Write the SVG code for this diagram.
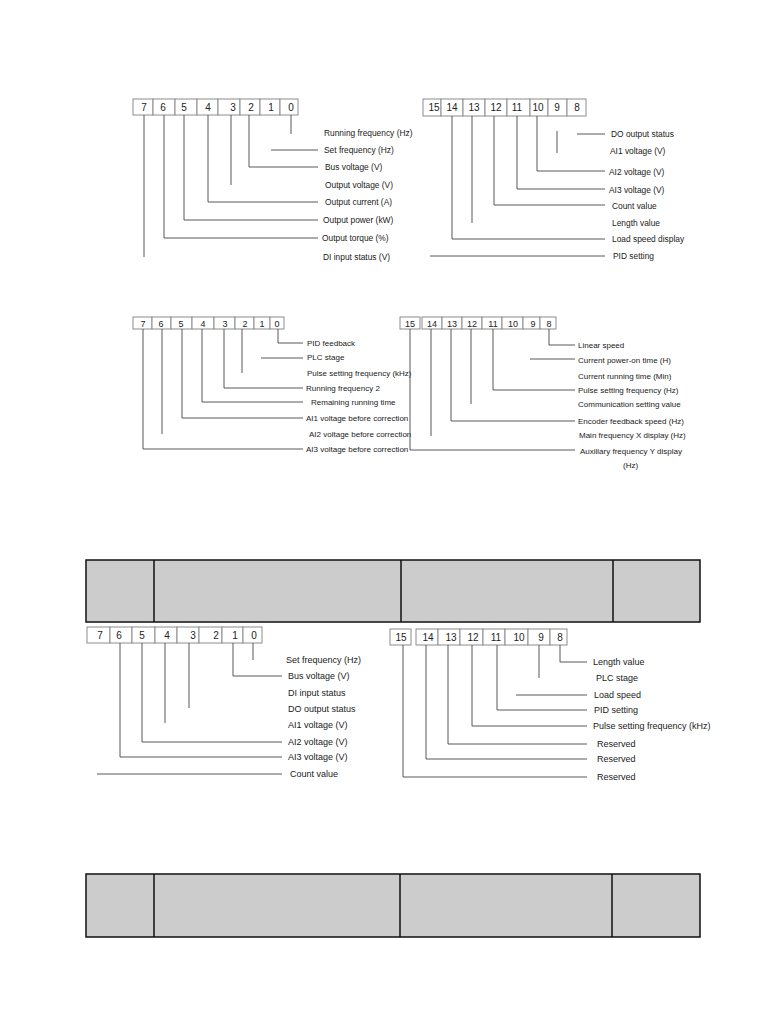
<svg xmlns="http://www.w3.org/2000/svg" width="766" height="1020" viewBox="0 0 766 1020">
<style>
.cell{fill:#fff;stroke:#8c8c8c;stroke-width:1}
.dg{font-family:"Liberation Sans",Arial,sans-serif;fill:#222;text-anchor:middle}
.d1{font-size:10px}
.d3{font-size:9px}
.lb{font-family:"Liberation Sans",Arial,sans-serif;fill:#1a1a1a}
.s1{font-size:8.4px}
.s3{font-size:8px}
.s5{font-size:9px}
.ln{fill:none;stroke:#454545;stroke-width:0.9}
.tb{fill:#cccccc;stroke:#111;stroke-width:1.5}
.tv{stroke:#111;stroke-width:1.5}
</style>
<rect width="766" height="1020" fill="#fff"/>

<!-- Diagram 1 -->
<g id="reg1-low">
<rect class="cell" x="133" y="99" width="20" height="16"/><rect class="cell" x="153" y="99" width="22" height="16"/><rect class="cell" x="175" y="99" width="22" height="16"/><rect class="cell" x="197" y="99" width="21" height="16"/><rect class="cell" x="218" y="99" width="22" height="16"/><rect class="cell" x="240" y="99" width="20" height="16"/><rect class="cell" x="260" y="99" width="20" height="16"/><rect class="cell" x="280" y="99" width="18" height="16"/>
<g class="dg d1"><text x="144" y="111">7</text><text x="163" y="111">6</text><text x="184" y="111">5</text><text x="208" y="111">4</text><text x="233" y="111">3</text><text x="251" y="111">2</text><text x="271" y="111">1</text><text x="291" y="111">0</text></g>
</g>
<g id="labels1" class="lb s1">
<text x="324" y="136">Running frequency  (Hz)</text>
<text x="324" y="153">Set frequency (Hz)</text>
<text x="325" y="170">Bus voltage (V)</text>
<text x="325" y="188">Output voltage (V)</text>
<text x="325" y="205">Output current (A)</text>
<text x="323" y="223">Output power (kW)</text>
<text x="322" y="241">Output torque (%)</text>
<text x="323" y="260">DI input status (V)</text>
</g>

<!-- Diagram 2 -->
<g id="reg1-high">
<rect class="cell" x="423" y="99" width="18" height="17"/><rect class="cell" x="441" y="99" width="22" height="17"/><rect class="cell" x="463" y="99" width="22" height="17"/><rect class="cell" x="485" y="99" width="22" height="17"/><rect class="cell" x="507" y="99" width="23" height="17"/><rect class="cell" x="530" y="99" width="18" height="17"/><rect class="cell" x="548" y="99" width="19" height="17"/><rect class="cell" x="567" y="99" width="19" height="17"/>
<g class="dg d1"><text x="434" y="111">15</text><text x="452" y="111">14</text><text x="474" y="111">13</text><text x="496" y="111">12</text><text x="517" y="111">11</text><text x="538" y="111">10</text><text x="557" y="111">9</text><text x="577" y="111">8</text></g>
</g>
<g id="labels2" class="lb s1">
<text x="611" y="137">DO output status</text>
<text x="610" y="154">AI1 voltage (V)</text>
<text x="609" y="175">AI2 voltage (V)</text>
<text x="609" y="193">AI3 voltage (V)</text>
<text x="612" y="209">Count value</text>
<text x="612" y="226">Length value</text>
<text x="612" y="242">Load speed display</text>
<text x="613" y="259">PID setting</text>
</g>

<!-- Diagram 3 -->
<g id="reg2-low">
<rect class="cell" x="133" y="317" width="19" height="12"/><rect class="cell" x="152" y="317" width="19" height="12"/><rect class="cell" x="171" y="317" width="21" height="12"/><rect class="cell" x="192" y="317" width="22" height="12"/><rect class="cell" x="214" y="317" width="21" height="12"/><rect class="cell" x="235" y="317" width="19" height="12"/><rect class="cell" x="254" y="317" width="16" height="12"/><rect class="cell" x="270" y="317" width="14" height="12"/>
<g class="dg d3"><text x="143" y="326.5">7</text><text x="161" y="326.5">6</text><text x="181" y="326.5">5</text><text x="203" y="326.5">4</text><text x="225" y="326.5">3</text><text x="245" y="326.5">2</text><text x="262" y="326.5">1</text><text x="277" y="326.5">0</text></g>
</g>
<g id="labels3" class="lb s3">
<text x="307" y="346">PID feedback</text>
<text x="307" y="360">PLC stage</text>
<text x="307" y="376">Pulse setting frequency (kHz)</text>
<text x="306" y="391">Running frequency 2</text>
<text x="311" y="405">Remaining running time</text>
<text x="306" y="421">AI1 voltage before correction</text>
<text x="309" y="437">AI2 voltage before correction</text>
<text x="306" y="452">AI3 voltage before correction</text>
</g>

<!-- Diagram 4 -->
<g id="reg2-high">
<rect class="cell" x="400" y="317" width="20" height="12"/>
<rect class="cell" x="422" y="317" width="20" height="12"/><rect class="cell" x="442" y="317" width="20" height="12"/><rect class="cell" x="462" y="317" width="20" height="12"/><rect class="cell" x="482" y="317" width="20" height="12"/><rect class="cell" x="502" y="317" width="21" height="12"/><rect class="cell" x="523" y="317" width="17" height="12"/><rect class="cell" x="540" y="317" width="16" height="12"/>
<g class="dg d3"><text x="410" y="326.5">15</text><text x="432" y="326.5">14</text><text x="452" y="326.5">13</text><text x="472" y="326.5">12</text><text x="493" y="326.5">11</text><text x="513" y="326.5">10</text><text x="533" y="326.5">9</text><text x="549" y="326.5">8</text></g>
</g>
<g id="labels4" class="lb s3">
<text x="578" y="348">Linear speed</text>
<text x="578" y="363">Current power-on time (H)</text>
<text x="578" y="379">Current running time (Min)</text>
<text x="578" y="393">Pulse setting frequency (Hz)</text>
<text x="578" y="407">Communication setting value</text>
<text x="578" y="424">Encoder feedback speed (Hz)</text>
<text x="579" y="438">Main frequency X display (Hz)</text>
<text x="580" y="454">Auxiliary frequency Y display</text>
<text x="623" y="468">(Hz)</text>
</g>

<!-- Table 1 -->
<g id="table1">
<rect class="tb" x="86" y="560" width="614" height="62"/>
<line class="tv" x1="154" y1="560" x2="154" y2="622" stroke="#555"/>
<line class="tv" x1="401" y1="560" x2="401" y2="622"/>
<line class="tv" x1="613" y1="560" x2="613" y2="622"/>
</g>

<!-- Diagram 5 -->
<g id="reg3-low">
<rect class="cell" x="87" y="627" width="23" height="16"/><rect class="cell" x="110" y="627" width="22" height="16"/><rect class="cell" x="132" y="627" width="23" height="16"/><rect class="cell" x="155" y="627" width="22" height="16"/><rect class="cell" x="177" y="627" width="22" height="16"/><rect class="cell" x="199" y="627" width="23" height="16"/><rect class="cell" x="222" y="627" width="21" height="16"/><rect class="cell" x="243" y="627" width="19" height="16"/>
<g class="dg d1"><text x="100" y="639">7</text><text x="119" y="639">6</text><text x="142" y="639">5</text><text x="167" y="639">4</text><text x="193" y="639">3</text><text x="216" y="639">2</text><text x="235" y="639">1</text><text x="254" y="639">0</text></g>
</g>
<g id="labels5" class="lb s5">
<text x="286" y="663">Set frequency (Hz)</text>
<text x="288" y="679">Bus voltage (V)</text>
<text x="288" y="696">DI input status</text>
<text x="288" y="712">DO output status</text>
<text x="288" y="728">AI1 voltage (V)</text>
<text x="288" y="745">AI2 voltage (V)</text>
<text x="288" y="760">AI3 voltage (V)</text>
<text x="290" y="777">Count value</text>
</g>

<!-- Diagram 6 -->
<g id="reg3-high">
<rect class="cell" x="390" y="629" width="21" height="16"/>
<rect class="cell" x="416" y="629" width="22" height="16"/><rect class="cell" x="438" y="629" width="22" height="16"/><rect class="cell" x="460" y="629" width="23" height="16"/><rect class="cell" x="483" y="629" width="22" height="16"/><rect class="cell" x="505" y="629" width="23" height="16"/><rect class="cell" x="528" y="629" width="22" height="16"/><rect class="cell" x="550" y="629" width="17" height="16"/>
<g class="dg d1"><text x="401" y="641">15</text><text x="428" y="641">14</text><text x="451" y="641">13</text><text x="473" y="641">12</text><text x="496" y="641">11</text><text x="519" y="641">10</text><text x="541" y="641">9</text><text x="560" y="641">8</text></g>
</g>
<g id="labels6" class="lb s5">
<text x="593" y="665">Length value</text>
<text x="596" y="681">PLC stage</text>
<text x="594" y="698">Load speed</text>
<text x="594" y="713">PID setting</text>
<text x="593" y="729">Pulse setting frequency (kHz)</text>
<text x="597" y="747">Reserved</text>
<text x="597" y="762">Reserved</text>
<text x="597" y="780">Reserved</text>
</g>

<!-- Table 2 -->
<g id="table2">
<rect class="tb" x="86" y="874" width="614" height="63"/>
<line class="tv" x1="154" y1="874" x2="154" y2="937" stroke="#555"/>
<line class="tv" x1="400" y1="874" x2="400" y2="937"/>
<line class="tv" x1="612" y1="874" x2="612" y2="937"/>
</g>

<g id="connectors" class="ln">
<!-- diagram 1 -->
<path d="M291,115V134"/>
<path d="M271,150H318"/>
<path d="M249,115V167H318"/>
<path d="M231,115V185"/>
<path d="M208,115V202H318"/>
<path d="M184,115V220H318"/>
<path d="M164,115V238H318"/>
<path d="M144,115V257"/>
<!-- diagram 2 -->
<path d="M577,134H605"/>
<path d="M557,131V153"/>
<path d="M537,116V171H605"/>
<path d="M517,116V189H605"/>
<path d="M494,116V205H605"/>
<path d="M472,116V223"/>
<path d="M452,116V239H605"/>
<path d="M430,256H605"/>
<!-- diagram 3 -->
<path d="M278,329V343H303"/>
<path d="M261,358H303"/>
<path d="M242,329V373"/>
<path d="M224,329V388H303"/>
<path d="M202,329V402H303"/>
<path d="M182,329V418H303"/>
<path d="M162,329V434"/>
<path d="M143,329V449H303"/>
<!-- diagram 4 -->
<path d="M410,329V450H575"/>
<path d="M549,329V345H575"/>
<path d="M530,359H575"/>
<path d="M493,329V390H575"/>
<path d="M471,329V404"/>
<path d="M451,329V421H575"/>
<path d="M431,329V436"/>
<!-- diagram 5 -->
<path d="M253,643V660"/>
<path d="M233,643V676H282"/>
<path d="M189,643V708"/>
<path d="M165,643V723"/>
<path d="M142,643V742H282"/>
<path d="M120,643V757H282"/>
<path d="M97,774H282"/>
<!-- diagram 6 -->
<path d="M560,645V662H587"/>
<path d="M539,645V678"/>
<path d="M516,695H587"/>
<path d="M497,645V710H587"/>
<path d="M472,645V726H587"/>
<path d="M448,645V744H587"/>
<path d="M426,645V759H587"/>
<path d="M403,645V777H587"/>
</g>
</svg>
